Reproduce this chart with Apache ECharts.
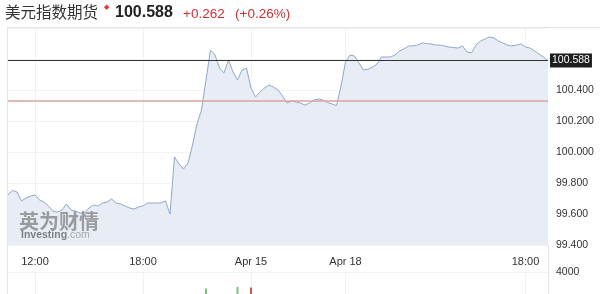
<!DOCTYPE html>
<html>
<head>
<meta charset="utf-8">
<script src="https://cdn.jsdelivr.net/npm/echarts@6/dist/echarts.min.js"></script>
<style>
html,body{margin:0;padding:0;background:#fff;}
#chart{width:600px;height:294px;}
</style>
</head>
<body>
<div id="chart"></div>
<script>
// ---- data ----
const prices = [
  99.723, 99.752, 99.742, 99.684, 99.703, 99.716, 99.723, 99.690, 99.677, 99.652,
  99.619, 99.613, 99.626, 99.665, 99.626, 99.619, 99.606, 99.606, 99.639, 99.658,
  99.652, 99.671, 99.677, 99.697, 99.671, 99.665, 99.652, 99.639, 99.632, 99.645,
  99.652, 99.671, 99.671, 99.671, 99.671, 99.684, 99.600, 99.968, 99.923, 99.890,
  99.929, 100.045, 100.181, 100.271, 100.465, 100.658, 100.626, 100.542, 100.510, 100.594,
  100.516, 100.465, 100.529, 100.542, 100.413, 100.355, 100.387, 100.413, 100.432, 100.419,
  100.400, 100.361, 100.316, 100.329, 100.323, 100.316, 100.303, 100.316, 100.335, 100.342,
  100.335, 100.319, 100.310, 100.300, 100.426, 100.581, 100.626, 100.619, 100.574, 100.529,
  100.535, 100.548, 100.568, 100.613, 100.613, 100.613, 100.626, 100.652, 100.665, 100.684,
  100.684, 100.690, 100.703, 100.700, 100.697, 100.690, 100.690, 100.684, 100.677, 100.674,
  100.671, 100.684, 100.645, 100.639, 100.690, 100.716, 100.729, 100.742, 100.735, 100.716,
  100.703, 100.690, 100.684, 100.690, 100.697, 100.677, 100.671, 100.652, 100.632, 100.613,
  100.588
];
const xTickIndex = [6, 30, 54, 75, 115];
const xTickText = ['12:00', '18:00', 'Apr 15', 'Apr 18', '18:00'];
const lastPrice = 100.588;
const prevClose = 100.326;
const change = '+0.262';
const changePct = '(+0.26%)';
const title = '美元指数期货';
const volIndex = [44, 51, 54];
const volValue = [1000, 1300, 1200];
const volUp = [true, true, false];
const volTickText = ['4000'];

// ---- build ----
const categories = prices.map((_, i) => String(i));
const tickMap = {};
xTickIndex.forEach((idx, k) => { tickMap[idx] = xTickText[k]; });
const volData = prices.map(() => null);
volIndex.forEach((idx, k) => {
  volData[idx] = { value: volValue[k], itemStyle: { color: volUp[k] ? '#7cc47c' : '#d9534f' } };
});
const isTick = (i) => tickMap[i] !== undefined;
const latin = 'Liberation Sans, Arial, sans-serif';

const chart = echarts.init(document.getElementById('chart'), null, { renderer: 'canvas' });
chart.setOption({
  animation: false,
  backgroundColor: '#ffffff',
  grid: [
    { left: 8, right: 52, top: 27, bottom: 49 },
    { left: 8, right: 52, top: 272, bottom: -18 }
  ],
  xAxis: [
    {
      type: 'category', gridIndex: 0, data: categories, boundaryGap: false,
      axisLine: { show: false }, axisTick: { show: false },
      axisLabel: {
        interval: (i) => isTick(i), formatter: (v, i) => tickMap[i] || '',
        color: '#333', fontSize: 11, fontFamily: latin, margin: 11
      },
      splitLine: { show: true, interval: (i) => isTick(i), lineStyle: { color: '#f1f1f1', width: 1 } }
    },
    {
      type: 'category', gridIndex: 1, data: categories, boundaryGap: false,
      axisLine: { show: false }, axisTick: { show: false }, axisLabel: { show: false },
      splitLine: { show: true, interval: (i) => isTick(i), lineStyle: { color: '#f1f1f1', width: 1 } }
    }
  ],
  yAxis: [
    {
      type: 'value', gridIndex: 0, position: 'right', min: 99.4, max: 100.8065, interval: 0.2,
      axisLine: { show: false }, axisTick: { show: false },
      axisLabel: {
        color: '#333', fontSize: 10.5, fontFamily: latin, margin: 8,
        formatter: (v) => (v > 100.5 ? '' : v.toFixed(3))
      },
      splitLine: { show: true, lineStyle: { color: '#f3f3f3', width: 1 } }
    },
    {
      type: 'value', gridIndex: 1, position: 'right', min: 0, max: 4000, interval: 4000,
      axisLine: { show: false }, axisTick: { show: false },
      axisLabel: {
        color: '#333', fontSize: 10.5, fontFamily: latin, margin: 8,
        formatter: (v) => (v === 4000 ? volTickText[0] : '')
      },
      splitLine: { show: true, lineStyle: { color: '#f1f1f1', width: 1 } }
    }
  ],
  series: [
    {
      type: 'line', xAxisIndex: 0, yAxisIndex: 0, data: prices,
      symbol: 'none', smooth: false,
      lineStyle: { color: '#91a8c9', width: 1 },
      areaStyle: { color: '#e8edf5', opacity: 1, origin: 'start' },
      markLine: {
        symbol: ['none', 'none'], silent: true, animation: false,
        data: [
          {
            yAxis: prevClose,
            lineStyle: { color: '#d9a3a3', width: 1.5, type: 'solid' },
            label: { show: false }
          },
          {
            yAxis: lastPrice,
            lineStyle: { color: '#333333', width: 1, type: 'solid' },
            label: {
              show: true, position: 'end', distance: 2,
              formatter: () => lastPrice.toFixed(3),
              backgroundColor: '#1e1e1e', color: '#fff', fontSize: 10.5,
              fontFamily: latin, padding: [2, 2, 1, 2]
            }
          }
        ]
      }
    },
    {
      type: 'bar', xAxisIndex: 1, yAxisIndex: 1, data: volData, barWidth: 2
    }
  ],
  graphic: [
    { type: 'line', z: 50, shape: { x1: 7.5, y1: 27, x2: 7.5, y2: 294 }, style: { stroke: '#e4e4e4', lineWidth: 1 }, silent: true },
    { type: 'line', z: 50, shape: { x1: 7, y1: 27.5, x2: 600, y2: 27.5 }, style: { stroke: '#e4e4e4', lineWidth: 1 }, silent: true },
    { type: 'line', z: 50, shape: { x1: 548.5, y1: 245, x2: 548.5, y2: 294 }, style: { stroke: '#e4e4e4', lineWidth: 1 }, silent: true },
    { type: 'text', left: 5, top: 4, style: { text: title, font: '15.5px "Noto Sans CJK SC", sans-serif', fill: '#333' } },
    { type: 'text', left: 104, top: 4, style: { text: '◆', font: '7px "DejaVu Sans", sans-serif', fill: '#e0393e' } },
    { type: 'text', left: 115, top: 5, style: { text: lastPrice.toFixed(3), font: 'bold 16px ' + latin, fill: '#222' } },
    { type: 'text', left: 183, top: 7, style: { text: change, font: '13.5px ' + latin, fill: '#d42f2f' } },
    { type: 'text', left: 235, top: 7, style: { text: changePct, font: '13.5px ' + latin, fill: '#d42f2f' } },
    { type: 'text', z: 100, left: 19, top: 211, style: { text: '英为财情', font: 'bold 20px "Noto Sans CJK SC", sans-serif', fill: 'rgba(120,120,120,0.7)' } },
    { type: 'text', z: 100, left: 21, top: 230, style: { text: '{a|Investing}{b|.com}', font: 'bold 10.5px ' + latin,
      rich: { a: { font: 'bold 10.5px ' + latin, fill: 'rgba(100,100,100,0.8)' }, b: { font: '10.5px ' + latin, fill: 'rgba(150,150,150,0.8)' } } } }
  ]
});
</script>
</body>
</html>
